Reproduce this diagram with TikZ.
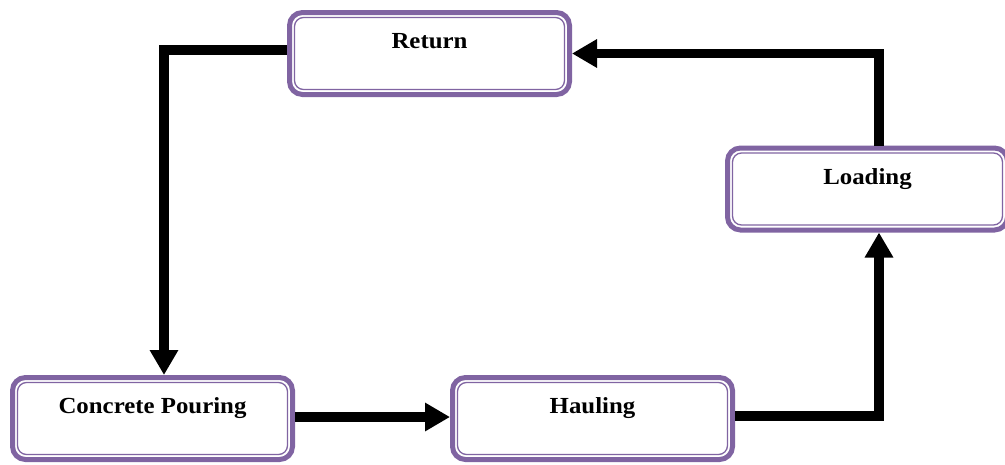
\documentclass[tikz,border=0pt]{standalone}
\usepackage{fontspec}
\setmainfont{Liberation Serif}[FakeStretch=1.08]
\usetikzlibrary{arrows.meta,calc}
\definecolor{boxpurple}{RGB}{128,100,162}
\tikzset{
  stage/.style={draw=boxpurple, line width=5pt, rounded corners=13pt, fill=white,
    minimum width=280pt, minimum height=82pt, inner sep=0pt,
    text height=36pt, text depth=46pt,
    font=\fontsize{23}{27}\selectfont\bfseries},
  innerline/.style={draw=boxpurple, line width=1.3pt, rounded corners=9pt},
  flow/.style={line width=9.5pt, line join=miter,
    -{Triangle[length=25pt,width=27pt]}},
}
\begin{document}
\begin{tikzpicture}[x=1pt,y=-1pt]
  \useasboundingbox (0,0) rectangle (1005,464);
  % process stages
  \node[stage] (ret)  at (429.5,53.5)  {Return};
  \node[stage] (load) at (867.5,189)   {Loading};
  \node[stage] (pour) at (152.5,418.5) {Concrete Pouring};
  \node[stage] (haul) at (592.5,418.5) {Hauling};
  % thin inner outline of each stage box
  \foreach \n in {ret,load,pour,haul}
    \draw[innerline] ($(\n.north west)+(7.5,7.5)$) rectangle ($(\n.south east)+(-7.5,-7.5)$);
  % cycle connectors
  \draw[flow] ([yshift=3.5pt]ret.west) -| ([xshift=11.5pt]pour.north);
  \draw[flow] ([yshift=1.5pt]pour.east) -- ([yshift=1.5pt]haul.west);
  \draw[flow] ([yshift=2.5pt]haul.east) -| ([xshift=11.5pt]load.south);
  \draw[flow] ([xshift=11.5pt]load.north) |- (ret.east);
\end{tikzpicture}
\end{document}
